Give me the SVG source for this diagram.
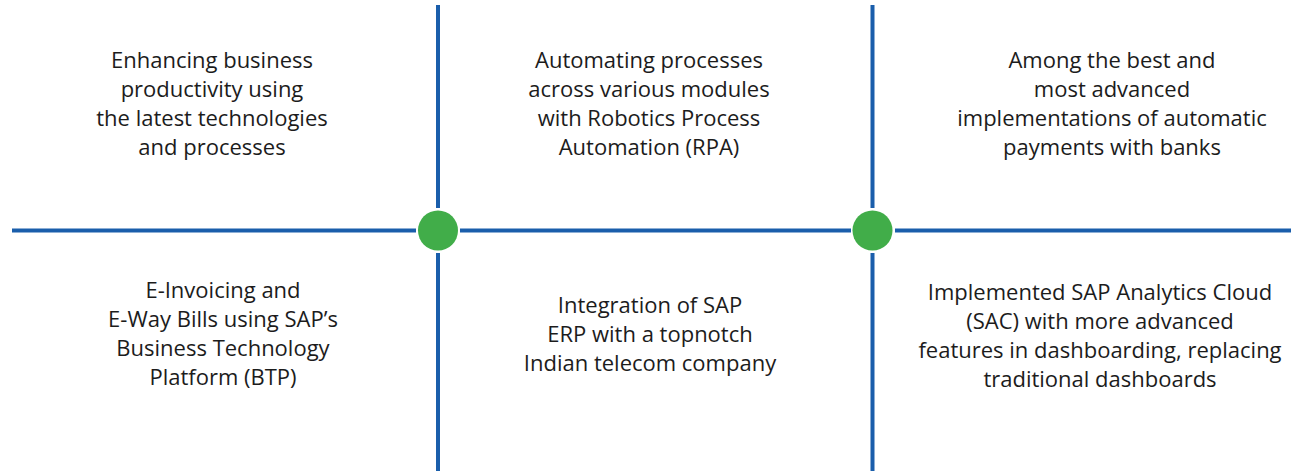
<svg xmlns="http://www.w3.org/2000/svg" width="1291" height="473" viewBox="0 0 1291 473">
<style>
.ln{stroke:#1a5eab;stroke-width:4;fill:none}
.dot{fill:#41ad49}
text{font-family:"Open Sans","Liberation Sans",sans-serif;font-size:22px;fill:#1c1c1c;text-anchor:middle}
</style>
<rect width="1291" height="473" fill="#ffffff"/>
<g id="connectors">
<line class="ln" x1="12" y1="230.5" x2="416" y2="230.5"/>
<line class="ln" x1="460" y1="230.5" x2="851" y2="230.5"/>
<line class="ln" x1="895" y1="230.5" x2="1291" y2="230.5"/>
<line class="ln" x1="438" y1="5" x2="438" y2="208"/>
<line class="ln" x1="438" y1="253" x2="438" y2="471"/>
<line class="ln" x1="872.5" y1="5" x2="872.5" y2="208"/>
<line class="ln" x1="872.5" y1="253" x2="872.5" y2="471"/>
</g>
<g id="hub1"><circle class="dot" cx="438" cy="230.5" r="20"/></g>
<g id="hub2"><circle class="dot" cx="872.5" cy="230.5" r="20"/></g>
<g id="box1">
<text x="212" y="68">Enhancing business</text>
<text x="212" y="97">productivity using</text>
<text x="212" y="126">the latest technologies</text>
<text x="212" y="155">and processes</text>
</g>
<g id="box2">
<text x="649" y="68">Automating processes</text>
<text x="649" y="97">across various modules</text>
<text x="649" y="126">with Robotics Process</text>
<text x="649" y="155">Automation (RPA)</text>
</g>
<g id="box3">
<text x="1112" y="68">Among the best and</text>
<text x="1112" y="97">most advanced</text>
<text x="1112" y="126">implementations of automatic</text>
<text x="1112" y="155">payments with banks</text>
</g>
<g id="box4">
<text x="223" y="298">E-Invoicing and</text>
<text x="223" y="327">E-Way Bills using SAP’s</text>
<text x="223" y="356">Business Technology</text>
<text x="223" y="385">Platform (BTP)</text>
</g>
<g id="box5">
<text x="650" y="313">Integration of SAP</text>
<text x="650" y="342">ERP with a topnotch</text>
<text x="650" y="371">Indian telecom company</text>
</g>
<g id="box6">
<text x="1100" y="300">Implemented SAP Analytics Cloud</text>
<text x="1100" y="329">(SAC) with more advanced</text>
<text x="1100" y="358">features in dashboarding, replacing</text>
<text x="1100" y="387">traditional dashboards</text>
</g>
</svg>
